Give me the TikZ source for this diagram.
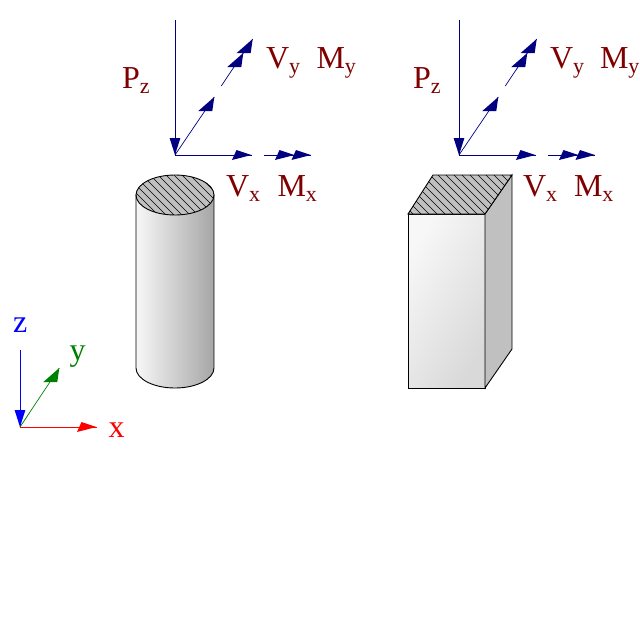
\documentclass[tikz,border=0pt]{standalone}
\usepackage{fontspec}
\setmainfont{Liberation Serif}
\definecolor{navyc}{HTML}{000080}
\definecolor{maroonc}{HTML}{7F0000}
\definecolor{greenc}{HTML}{008000}
\definecolor{hatchbg}{HTML}{C0C0C0}
\newcommand{\lab}[2]{#1\raisebox{-5.5pt}{\fontsize{22}{22}\selectfont #2}}
\newcommand{\xtip}[2]{\fill[#2] (#1) -- ++(-15,-5) -- ++(-4.5,10) -- cycle;}
\newcommand{\ytip}[2]{\fill[#2] (#1) -- ++(-16,14) -- ++(14,0) -- cycle;}
\newcommand{\ztip}[2]{\fill[#2] (#1) -- ++(-5.4,-17) -- ++(10.8,0) -- cycle;}
\tikzset{
  x=1pt,y=-1pt,
  force/.style={navyc,line width=0.9pt},
  forcey/.style={navyc,line width=0.7pt},
  forcelab/.style={anchor=base west,inner sep=0pt,outer sep=0pt,text=maroonc,font=\fontsize{32}{32}\selectfont},
  axlab/.style={anchor=base west,inner sep=0pt,outer sep=0pt,font=\fontsize{32}{32}\selectfont},
  outline/.style={draw=black,line width=0.9pt},
  hatch/.style={black,line width=0.7pt},
}
\begin{document}
\begin{tikzpicture}
\useasboundingbox (0,0) rectangle (640,640);
% cylinder
\path[outline,left color=white!97!black,right color=black!35] (136,195) -- (136,368)
  arc[start angle=180,end angle=360,x radius=39pt,y radius=20pt] -- (214,195) -- cycle;
\fill[hatchbg] (175,195) ellipse[x radius=39pt,y radius=20pt];
\begin{scope}
  \clip (175,195) ellipse[x radius=39pt,y radius=20pt];
  \foreach \i in {60,68,...,220} \draw[hatch] (\i,165) -- (\i+60,225);
\end{scope}
\draw[outline] (175,195) ellipse[x radius=39pt,y radius=20pt];
% box
\path[outline,left color=white!97!black,right color=black!15,shading angle=60] (408,214) rectangle (485,388);
\path[outline,fill=hatchbg] (485,214) -- (512,175) -- (512,349) -- (485,388) -- cycle;
\fill[hatchbg] (408,214) -- (433,175) -- (512,175) -- (485,214) -- cycle;
\begin{scope}
  \clip (408,214) -- (433,175) -- (512,175) -- (485,214) -- cycle;
  \foreach \i in {340,348,...,510} \draw[hatch] (\i,165) -- (\i+60,225);
\end{scope}
\draw[outline] (408,214) -- (433,175) -- (512,175) -- (485,214) -- cycle;
% forces 1
\coordinate (o1) at (175,155);
\coordinate (pz1) at (175,20);
\coordinate (vy1) at (214.3,97);
\coordinate (my1s) at (221.3,86);
\coordinate (my1m) at (243.3,53);
\coordinate (my1e) at (252.7,39);
\coordinate (vx1) at (251.5,155);
\coordinate (mx1s) at (264,155);
\coordinate (mx1m) at (294.5,155);
\coordinate (mx1e) at (311,155);
\draw[force] (pz1) -- (o1);
\ztip{o1}{navyc}
\draw[forcey] (o1) -- (vy1);
\ytip{vy1}{navyc}
\draw[forcey] (my1s) -- (my1e);
\ytip{my1m}{navyc}
\ytip{my1e}{navyc}
\draw[force] (o1) -- (vx1);
\xtip{vx1}{navyc}
\draw[force] (mx1s) -- (mx1e);
\xtip{mx1m}{navyc}
\xtip{mx1e}{navyc}
\node[forcelab] (pl1) at (122,88) {\lab{P}{z}};
\node[forcelab] (vyl1) at (266,68) {\lab{V}{y}};
\node[forcelab] (myl1) at (316.5,68) {\lab{M}{y}};
\node[forcelab] (vxl1) at (226,196) {\lab{V}{x}};
\node[forcelab] (mxl1) at (277.5,196) {\lab{M}{x}};
% forces 2
\coordinate (o2) at (459,155);
\coordinate (pz2) at (459,20);
\coordinate (vy2) at (498.3,97);
\coordinate (my2s) at (505.3,86);
\coordinate (my2m) at (527.3,53);
\coordinate (my2e) at (536.7,39);
\coordinate (vx2) at (535.5,155);
\coordinate (mx2s) at (548,155);
\coordinate (mx2m) at (578.5,155);
\coordinate (mx2e) at (595,155);
\draw[force] (pz2) -- (o2);
\ztip{o2}{navyc}
\draw[forcey] (o2) -- (vy2);
\ytip{vy2}{navyc}
\draw[forcey] (my2s) -- (my2e);
\ytip{my2m}{navyc}
\ytip{my2e}{navyc}
\draw[force] (o2) -- (vx2);
\xtip{vx2}{navyc}
\draw[force] (mx2s) -- (mx2e);
\xtip{mx2m}{navyc}
\xtip{mx2e}{navyc}
\node[forcelab] (pl2) at (413,88) {\lab{P}{z}};
\node[forcelab] (vyl2) at (550,68) {\lab{V}{y}};
\node[forcelab] (myl2) at (600,68) {\lab{M}{y}};
\node[forcelab] (vxl2) at (523,196) {\lab{V}{x}};
\node[forcelab] (mxl2) at (574,196) {\lab{M}{x}};
% axes
\coordinate (ao) at (20,427);
\coordinate (az) at (20,350);
\coordinate (ay) at (59.3,368);
\coordinate (ax) at (96.5,427);
\draw[blue,line width=0.9pt] (az) -- (ao);
\ztip{ao}{blue}
\draw[greenc,line width=0.7pt] (ao) -- (ay);
\ytip{ay}{greenc}
\draw[red,line width=0.9pt] (ao) -- (ax);
\xtip{ax}{red}
\node[axlab,text=blue] (zl) at (13,332) {z};
\node[axlab,text=greenc] (yl) at (69.5,360) {y};
\node[axlab,text=red] (xl) at (108.5,437) {x};
\end{tikzpicture}
\end{document}
